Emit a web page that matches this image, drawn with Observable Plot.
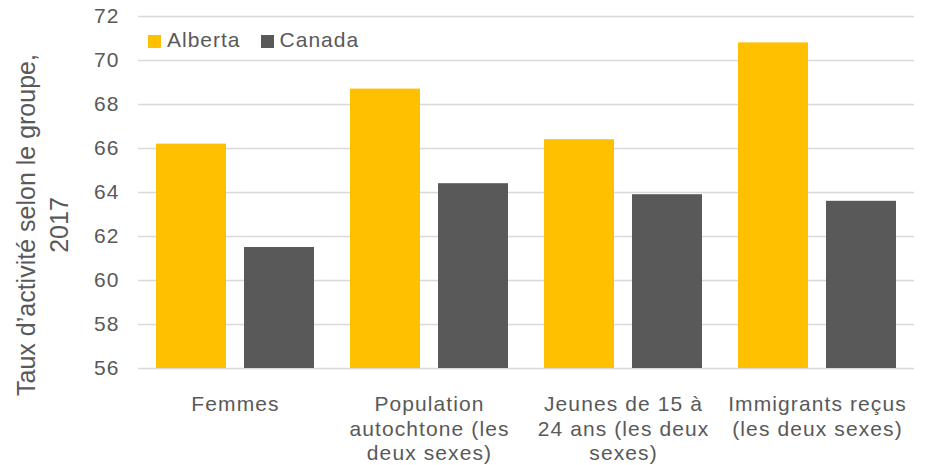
<!DOCTYPE html>
<html>
<head>
<meta charset="utf-8">
<script src="https://cdn.jsdelivr.net/npm/d3@7"></script>
<script src="https://cdn.jsdelivr.net/npm/@observablehq/plot@0.6"></script>
<style>
  body { margin: 0; background: #fff; }
  #wrap { position: relative; width: 928px; height: 465px; font-family: "Liberation Sans", Arial, sans-serif; color: #595959; }
  #wrap svg text { letter-spacing: 1.1px; }
  #legend { position: absolute; left: 148px; top: 28px; display: flex; align-items: center; font-size: 21px; letter-spacing: 1px; }
  #legend .item { display: flex; align-items: center; margin-right: 20px; }
  #legend .sw { width: 13px; height: 13px; margin-right: 6px; margin-top: 2px; }
  #ylabel { position: absolute; left: 43px; top: 225px; transform: translate(-50%, -50%) rotate(-90deg); white-space: nowrap; text-align: center; font-size: 25px; line-height: 33px; letter-spacing: 0px; }
</style>
</head>
<body>
<div id="wrap"></div>
<script>
const categories = ["Femmes", "Population autochtone (les deux sexes)", "Jeunes de 15 à 24 ans (les deux sexes)", "Immigrants reçus (les deux sexes)"];
const tickLabels = ["Femmes", "Population\nautochtone (les\ndeux sexes)", "Jeunes de 15 à\n24 ans (les deux\nsexes)", "Immigrants reçus\n(les deux sexes)"];
const series = ["Alberta", "Canada"];
const alberta = [66.2, 68.7, 66.4, 70.8];
const canada = [61.5, 64.4, 63.9, 63.6];
const yTicks = [56, 58, 60, 62, 64, 66, 68, 70, 72];
const colors = ["#FFC000", "#595959"];
const yTitle = ["Taux d’activité selon le groupe,", "2017"];

const data = [];
categories.forEach((c, i) => {
  data.push({category: c, series: series[0], value: alberta[i]});
  data.push({category: c, series: series[1], value: canada[i]});
});

const chart = Plot.plot({
  width: 928,
  height: 465,
  marginLeft: 138,
  marginRight: 14,
  marginTop: 16,
  marginBottom: 97,
  style: {fontFamily: "'Liberation Sans', Arial, sans-serif", fontSize: "21px", color: "#595959", background: "white"},
  fx: {domain: categories, padding: 0, label: null},
  x: {domain: series, axis: null, paddingInner: 0.2, paddingOuter: 0.19},
  y: {domain: [yTicks[0], yTicks[yTicks.length - 1]], label: null},
  color: {domain: series, range: colors},
  marks: [
    Plot.gridY(yTicks, {stroke: "#d9d9d9", strokeOpacity: 1, strokeWidth: 1.5}),
    Plot.barY(data, {fx: "category", x: "series", y1: yTicks[0], y2: "value", fill: "series"}),
    Plot.axisY(yTicks, {tickSize: 0, tickPadding: 19, fontSize: 21, label: null}),
    Plot.axisFx({anchor: "bottom", tickSize: 0, tickPadding: 25, fontSize: 21, lineHeight: 1.17, label: null,
      tickFormat: d => tickLabels[categories.indexOf(d)]})
  ]
});

const wrap = document.getElementById("wrap");
wrap.appendChild(chart);

const legend = document.createElement("div");
legend.id = "legend";
series.forEach((s, i) => {
  const item = document.createElement("div");
  item.className = "item";
  const sw = document.createElement("div");
  sw.className = "sw";
  sw.style.background = colors[i];
  const t = document.createElement("span");
  t.textContent = s;
  item.appendChild(sw);
  item.appendChild(t);
  legend.appendChild(item);
});
wrap.appendChild(legend);

const yl = document.createElement("div");
yl.id = "ylabel";
yl.innerHTML = yTitle.map(s => s.replace(/&/g, "&amp;").replace(/</g, "&lt;")).join("<br>");
wrap.appendChild(yl);
</script>
</body>
</html>
